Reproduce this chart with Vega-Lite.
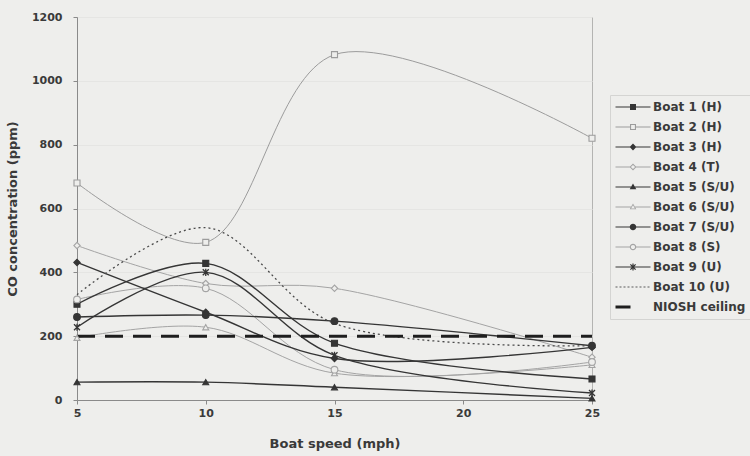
{
  "$schema": "https://vega.github.io/schema/vega-lite/v6.json",
  "width": 515,
  "height": 383,
  "autosize": {"type": "none"},
  "padding": {"left": 77, "top": 17, "right": 158, "bottom": 56},
  "background": "#eeeeec",
  "config": {
    "view": {"stroke": "#b4b4b2", "strokeWidth": 1},
    "font": "DejaVu Sans",
    "axis": {
      "labelFont": "DejaVu Sans", "labelFontWeight": "bold", "labelFontSize": 11, "labelColor": "#3a3a3a",
      "titleFont": "DejaVu Sans", "titleFontWeight": "bold", "titleFontSize": 13, "titleColor": "#3a3a3a",
      "domainColor": "#8a8a8a", "tickColor": "#8a8a8a", "tickSize": 4,
      "gridColor": "#e5e5e3", "gridWidth": 1
    },
    "legend": {
      "orient": "none", "legendX": 533, "legendY": 78,
      "padding": 6, "strokeColor": "#d4d4d2",
      "labelFont": "DejaVu Sans", "labelFontWeight": "bold", "labelFontSize": 12, "labelColor": "#3a3a3a",
      "symbolSize": 100, "symbolStrokeWidth": 0, "symbolOpacity": 1,
      "rowPadding": 8, "labelOffset": 14, "symbolOffset": 11
    }
  },
  "data": {
    "values": [
      {"series": "Boat 1 (H)", "speed": 5, "co": 300},
      {"series": "Boat 1 (H)", "speed": 10, "co": 428},
      {"series": "Boat 1 (H)", "speed": 15, "co": 178},
      {"series": "Boat 1 (H)", "speed": 25, "co": 66},
      {"series": "Boat 2 (H)", "speed": 5, "co": 680},
      {"series": "Boat 2 (H)", "speed": 10, "co": 494},
      {"series": "Boat 2 (H)", "speed": 15, "co": 1082},
      {"series": "Boat 2 (H)", "speed": 25, "co": 820},
      {"series": "Boat 3 (H)", "speed": 5, "co": 431},
      {"series": "Boat 3 (H)", "speed": 10, "co": 275},
      {"series": "Boat 3 (H)", "speed": 15, "co": 130},
      {"series": "Boat 3 (H)", "speed": 25, "co": 165},
      {"series": "Boat 4 (T)", "speed": 5, "co": 484},
      {"series": "Boat 4 (T)", "speed": 10, "co": 365},
      {"series": "Boat 4 (T)", "speed": 15, "co": 350},
      {"series": "Boat 4 (T)", "speed": 25, "co": 134},
      {"series": "Boat 5 (S/U)", "speed": 5, "co": 56},
      {"series": "Boat 5 (S/U)", "speed": 10, "co": 56},
      {"series": "Boat 5 (S/U)", "speed": 15, "co": 40},
      {"series": "Boat 5 (S/U)", "speed": 25, "co": 5},
      {"series": "Boat 6 (S/U)", "speed": 5, "co": 195},
      {"series": "Boat 6 (S/U)", "speed": 10, "co": 228},
      {"series": "Boat 6 (S/U)", "speed": 15, "co": 84},
      {"series": "Boat 6 (S/U)", "speed": 25, "co": 110},
      {"series": "Boat 7 (S/U)", "speed": 5, "co": 260},
      {"series": "Boat 7 (S/U)", "speed": 10, "co": 266},
      {"series": "Boat 7 (S/U)", "speed": 15, "co": 247},
      {"series": "Boat 7 (S/U)", "speed": 25, "co": 170},
      {"series": "Boat 8 (S)", "speed": 5, "co": 315},
      {"series": "Boat 8 (S)", "speed": 10, "co": 350},
      {"series": "Boat 8 (S)", "speed": 15, "co": 95},
      {"series": "Boat 8 (S)", "speed": 25, "co": 119},
      {"series": "Boat 9 (U)", "speed": 5, "co": 228},
      {"series": "Boat 9 (U)", "speed": 10, "co": 400},
      {"series": "Boat 9 (U)", "speed": 15, "co": 140},
      {"series": "Boat 9 (U)", "speed": 25, "co": 22},
      {"series": "Boat 10 (U)", "speed": 5, "co": 330},
      {"series": "Boat 10 (U)", "speed": 10, "co": 540},
      {"series": "Boat 10 (U)", "speed": 15, "co": 240},
      {"series": "Boat 10 (U)", "speed": 25, "co": 170},
      {"series": "NIOSH ceiling", "speed": 5, "co": 200},
      {"series": "NIOSH ceiling", "speed": 25, "co": 200}
    ]
  },
  "encoding": {
    "x": {"field": "speed", "type": "quantitative",
      "scale": {"domain": [5, 25], "nice": false},
      "axis": {"values": [5, 10, 15, 20, 25], "title": "Boat speed (mph)", "grid": false, "labelPadding": 3, "titlePadding": 19, "labelFlush": false}},
    "y": {"field": "co", "type": "quantitative",
      "scale": {"domain": [0, 1200], "nice": false},
      "axis": {"values": [0, 200, 400, 600, 800, 1000, 1200], "format": "d", "title": "CO concentration (ppm)", "labelPadding": 11, "titlePadding": 12, "grid": true}},
    "stroke": {"field": "series", "type": "nominal", "title": null,
      "scale": {
        "domain": ["Boat 1 (H)", "Boat 2 (H)", "Boat 3 (H)", "Boat 4 (T)", "Boat 5 (S/U)", "Boat 6 (S/U)", "Boat 7 (S/U)", "Boat 8 (S)", "Boat 9 (U)", "Boat 10 (U)", "NIOSH ceiling"],
        "range": ["#353535", "#9c9c9c", "#353535", "#a4a4a4", "#353535", "#a4a4a4", "#353535", "#a4a4a4", "#353535", "#4a4a4a", "#1e1e1e"]}}
  },
  "layer": [
    {
      "transform": [{"filter": {"field": "series", "oneOf": ["Boat 2 (H)", "Boat 4 (T)", "Boat 6 (S/U)", "Boat 8 (S)"]}}],
      "mark": {"type": "line", "interpolate": "catmull-rom", "strokeWidth": 1}
    },
    {
      "transform": [{"filter": {"field": "series", "oneOf": ["Boat 1 (H)", "Boat 3 (H)", "Boat 5 (S/U)", "Boat 7 (S/U)", "Boat 9 (U)"]}}],
      "mark": {"type": "line", "interpolate": "catmull-rom", "strokeWidth": 1.4}
    },
    {
      "transform": [{"filter": {"field": "series", "equal": "Boat 10 (U)"}}],
      "mark": {"type": "line", "interpolate": "catmull-rom", "strokeWidth": 1.3, "strokeDash": [2, 3]}
    },
    {
      "transform": [{"filter": {"field": "series", "equal": "NIOSH ceiling"}}],
      "mark": {"type": "line", "strokeWidth": 3, "strokeDash": [18, 10]}
    },
    {
      "transform": [{"filter": {"field": "series", "equal": "Boat 1 (H)"}}],
      "mark": {"type": "point", "shape": "square", "size": 36, "strokeWidth": 1.1, "opacity": 1, "fill": "#353535"}
    },
    {
      "transform": [{"filter": {"field": "series", "equal": "Boat 2 (H)"}}],
      "mark": {"type": "point", "shape": "square", "size": 36, "strokeWidth": 1.1, "opacity": 1, "fill": "#eeeeec"}
    },
    {
      "transform": [{"filter": {"field": "series", "equal": "Boat 3 (H)"}}],
      "mark": {"type": "point", "shape": "diamond", "size": 40, "strokeWidth": 1.1, "opacity": 1, "fill": "#353535"}
    },
    {
      "transform": [{"filter": {"field": "series", "equal": "Boat 4 (T)"}}],
      "mark": {"type": "point", "shape": "diamond", "size": 40, "strokeWidth": 1.1, "opacity": 1, "fill": "#eeeeec"}
    },
    {
      "transform": [{"filter": {"field": "series", "equal": "Boat 5 (S/U)"}}],
      "mark": {"type": "point", "shape": "triangle-up", "size": 36, "strokeWidth": 1.1, "opacity": 1, "fill": "#353535"}
    },
    {
      "transform": [{"filter": {"field": "series", "equal": "Boat 6 (S/U)"}}],
      "mark": {"type": "point", "shape": "triangle-up", "size": 36, "strokeWidth": 1.1, "opacity": 1, "fill": "#eeeeec"}
    },
    {
      "transform": [{"filter": {"field": "series", "equal": "Boat 7 (S/U)"}}],
      "mark": {"type": "point", "shape": "circle", "size": 45, "strokeWidth": 1.1, "opacity": 1, "fill": "#353535"}
    },
    {
      "transform": [{"filter": {"field": "series", "equal": "Boat 8 (S)"}}],
      "mark": {"type": "point", "shape": "circle", "size": 45, "strokeWidth": 1.1, "opacity": 1, "fill": "#eeeeec"}
    },
    {
      "transform": [{"filter": {"field": "series", "equal": "Boat 9 (U)"}}],
      "mark": {"type": "point", "shape": "M-1,-1L1,1M-1,1L1,-1M0,-1.2L0,1.2", "size": 36, "strokeWidth": 1.3, "opacity": 1, "filled": false}
    },
    {
      "mark": {"type": "point", "opacity": 0},
      "encoding": {
        "fill": {"field": "series", "type": "nominal", "title": null,
          "scale": {
            "domain": ["Boat 1 (H)", "Boat 2 (H)", "Boat 3 (H)", "Boat 4 (T)", "Boat 5 (S/U)", "Boat 6 (S/U)", "Boat 7 (S/U)", "Boat 8 (S)", "Boat 9 (U)", "Boat 10 (U)", "NIOSH ceiling"],
            "range": ["#353535", "#9c9c9c", "#353535", "#a4a4a4", "#353535", "#a4a4a4", "#353535", "#a4a4a4", "#353535", "#5a5a5a", "#1e1e1e"]}},
        "shape": {"field": "series", "type": "nominal", "title": null,
          "scale": {
            "domain": ["Boat 1 (H)", "Boat 2 (H)", "Boat 3 (H)", "Boat 4 (T)", "Boat 5 (S/U)", "Boat 6 (S/U)", "Boat 7 (S/U)", "Boat 8 (S)", "Boat 9 (U)", "Boat 10 (U)", "NIOSH ceiling"],
            "range": [
              "M-3.5,-0.12H-0.6V-0.6H0.6V-0.12H3.5V0.12H0.6V0.6H-0.6V0.12H-3.5Z",
              "M-3.5,-0.1H-0.6V-0.6H0.6V-0.1H3.5V0.1H0.6V0.6H-0.6V0.1H-3.5ZM-0.38,-0.38V0.38H0.38V-0.38Z",
              "M-3.5,-0.12H-0.58L0,-0.7L0.58,-0.12H3.5V0.12H0.58L0,0.7L-0.58,0.12H-3.5Z",
              "M-3.5,-0.1H-0.6L0,-0.7L0.6,-0.1H3.5V0.1H0.6L0,0.7L-0.6,0.1H-3.5ZM0,-0.42L-0.42,0L0,0.42L0.42,0Z",
              "M-3.5,-0.12H3.5V0.12H-3.5ZM0,-0.7L0.66,0.46H-0.66Z",
              "M-3.5,-0.1H-0.42V0.1H-3.5ZM0.42,-0.1H3.5V0.1H0.42ZM0,-0.7L0.66,0.46H-0.66ZM0,-0.35L-0.38,0.3H0.38Z",
              "M-3.5,-0.12H3.5V0.12H-3.5ZM-0.66,0A0.66,0.66 0 1,1 0.66,0A0.66,0.66 0 1,1 -0.66,0Z",
              "M-3.5,-0.1H-0.6V0.1H-3.5ZM0.6,-0.1H3.5V0.1H0.6ZM-0.66,0A0.66,0.66 0 1,1 0.66,0A0.66,0.66 0 1,1 -0.66,0ZM-0.42,0A0.42,0.42 0 1,0 0.42,0A0.42,0.42 0 1,0 -0.42,0Z",
              "M-3.5,-0.12H3.5V0.12H-3.5ZM-0.435,-0.605L0.605,0.435L0.435,0.605L-0.605,-0.435ZM-0.605,0.435L0.435,-0.605L0.605,-0.435L-0.435,0.605ZM-0.12,-0.7H0.12V0.7H-0.12Z",
              "M-3.5,-0.1H-3.1V0.1H-3.5ZM-2.7,-0.1H-2.3V0.1H-2.7ZM-1.9,-0.1H-1.5V0.1H-1.9ZM-1.1,-0.1H-0.7V0.1H-1.1ZM-0.3,-0.1H0.1V0.1H-0.3ZM0.5,-0.1H0.9V0.1H0.5ZM1.3,-0.1H1.7V0.1H1.3ZM2.1,-0.1H2.5V0.1H2.1ZM2.9,-0.1H3.3V0.1H2.9Z",
              "M-3.5,-0.3H-0.5V0.3H-3.5Z"
            ]}}
      }
    }
  ]
}
